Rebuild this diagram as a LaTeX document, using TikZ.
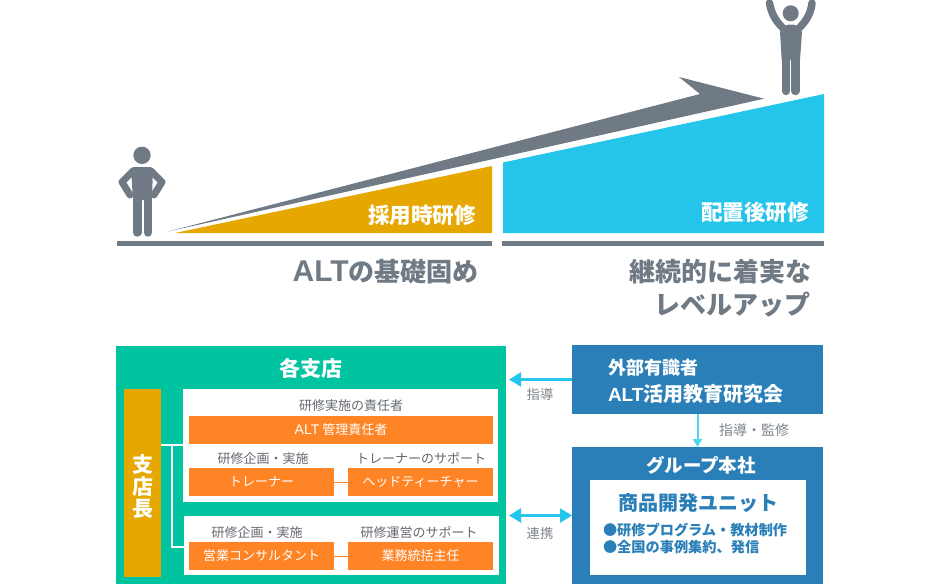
\documentclass[tikz,border=0pt]{standalone}
\usepackage{fontspec}
\setmainfont{Noto Sans CJK JP}
\newfontfamily\altfont{Liberation Sans}
\usetikzlibrary{arrows.meta}

\definecolor{slategray}{HTML}{6F7A85}
\definecolor{labelgray}{HTML}{7E858C}
\definecolor{goldbar}{HTML}{E6A800}
\definecolor{skyblue}{HTML}{25C4EA}
\definecolor{lightsky}{HTML}{4FD5EF}
\definecolor{branchgreen}{HTML}{00C4A0}
\definecolor{hqblue}{HTML}{2A7FB8}
\definecolor{roleorange}{HTML}{FF8426}

\newcommand{\fsz}[1]{\fontsize{#1}{#1}\selectfont}

\tikzset{
  panel/.style={rectangle, inner sep=0pt, outer sep=0pt},
  rolebox/.style={panel, fill=roleorange, text=white, font=\fsz{13}},
  roletitle/.style={labelgray!80!black, inner sep=0pt, font=\fsz{13}},
  linklabel/.style={labelgray, inner sep=0pt, font=\fsz{13.3}},
  bigtitle/.style={slategray, inner sep=0pt, font=\fsz{26}\bfseries},
  stagetitle/.style={white, inner sep=0pt, font=\fsz{21.6}\bfseries},
  linkarrow/.style={skyblue, line width=2.2pt},
  limb/.style={slategray, line cap=round, line join=round}
}

\begin{document}
\begin{tikzpicture}[x=1pt, y=-1pt]
 \useasboundingbox (0,0) rectangle (941,584);

 %%%  upper part

 % ground and wedges
 \fill [slategray] (117,241) rectangle (492,246);
 \fill [slategray] (502,241) rectangle (824,246);
 \fill [goldbar] (175,233) -- (492,166) -- (492,233) -- cycle;
 \fill [skyblue] (503,233) -- (503,162.5) -- (824,94) -- (824,233) -- cycle;
 \fill [slategray] (168,231.5) -- (700,94) -- (679,77) -- (764,98.7) -- cycle;

 % left person
 \fill [slategray] (142,155.3) circle (8.7);
 \draw [limb, line width=7pt] (133,171) -- (122,182) -- (130,195);
 \draw [limb, line width=7pt] (151,171) -- (162,182) -- (154,195);
 \fill [slategray, rounded corners=3pt] (131,167) -- (153,167) -- (152,200) -- (133,200) -- cycle;
 \draw [limb, line width=8.4pt] (137.3,199) -- (137.3,232.5);
 \draw [limb, line width=8.4pt] (147.7,199) -- (147.7,232.5);

 % right person
 \fill [slategray] (790.7,13.3) circle (8);
 \draw [limb, line width=7.5pt] (784,29) .. controls (776,22) and (771,13) .. (769.5,3);
 \draw [limb, line width=7.5pt] (798,29) .. controls (806,22) and (811,13) .. (812,3);
 \fill [slategray] (780,32) .. controls (783,26) and (786,24.5) .. (791,24.5) .. controls (796,24.5) and (799,26) .. (802,32) -- (800,60) -- (781.7,60) -- cycle;
 \draw [limb, line width=8.4pt] (786,59) -- (786,91);
 \draw [limb, line width=8.4pt] (795.5,59) -- (795.5,91);

 % wedge and step titles
 \node [stagetitle] (hire) at (422,215) {採用時研修};
 \node [stagetitle] (place) at (755,212.5) {配置後研修};
 \node [bigtitle, anchor=east] (base) at (479,272) {{\altfont\bfseries\fsz{30}ALT}の基礎固め};
 \node [bigtitle, anchor=east] (steady) at (812,272) {継続的に着実な};
 \node [bigtitle, anchor=east] (levelup) at (811,305) {レベルアップ};

 %%%  lower part

 % branch side
 \node [panel, fill=branchgreen, minimum width=390, minimum height=238] (branch) at (311,465) {};
 \node [panel, white, font=\fsz{21}\bfseries] (branchtitle) at (311,368) {各支店};
 \node [panel, fill=goldbar, minimum width=37, minimum height=188] (head) at (142.5,483) {};
 \node [panel, white, align=center, font=\fsz{21}\bfseries] (headtitle) at (142.5,487) {支\\[1pt]店\\[1pt]長};
 \node [panel, fill=white, minimum width=315, minimum height=113] (upper) at (340.5,445.5) {};
 \node [panel, fill=white, minimum width=315, minimum height=59] (lower) at (341.5,545.5) {};

 \node [rolebox, minimum width=304, minimum height=28] (manager) at (341,430) {{\altfont\fsz{14}ALT} 管理責任者};
 \node [rolebox, minimum width=145, minimum height=28] (trainer) at (261.5,482) {トレーナー};
 \node [rolebox, minimum width=145, minimum height=28] (teacher) at (420.5,482) {ヘッドティーチャー};
 \node [rolebox, minimum width=145, minimum height=28] (consult) at (261.5,556) {営業コンサルタント};
 \node [rolebox, minimum width=145, minimum height=28] (chief) at (420.5,556) {業務統括主任\hspace{9pt}};

 \node [roletitle] (t1) at (351,405.5) {研修実施の責任者};
 \node [roletitle] (t2) at (263,458.5) {研修企画・実施};
 \node [roletitle] (t3) at (421,458.5) {トレーナーのサポート};
 \node [roletitle] (t4) at (257,532.5) {研修企画・実施};
 \node [roletitle] (t5) at (419,532.5) {研修運営のサポート};

 \coordinate (jt) at (172,445);
 \coordinate (jb) at (172,547);
 \draw [white, line width=1.5pt] (head.east |- jt) -- (upper.west |- jt);
 \draw [white, line width=1.5pt] (jt) -- (jb) -- (lower.west |- jb);
 \draw [roleorange, line width=1pt] (trainer) -- (teacher);
 \draw [roleorange, line width=1pt] (consult) -- (chief);

 % group side
 \node [panel, fill=hqblue, minimum width=251, minimum height=69] (ext) at (697.5,379.5) {};
 \node [panel, white, align=left, font=\fsz{18}\bfseries, anchor=west] (exttitle) at (608,381) {外部有識者\\[7pt]{\fsz{20}{\altfont\bfseries\fsz{19}ALT}活用教育研究会}};
 \node [panel, fill=hqblue, minimum width=251, minimum height=137] (hq) at (697.5,515.5) {};
 \node [panel, white, font=\fsz{18.5}\bfseries] (hqtitle) at (701,465) {グループ本社};
 \node [panel, fill=white, minimum width=216, minimum height=95] (unit) at (698,527.5) {};
 \node [panel, text=hqblue, font=\fsz{20}\bfseries] (unittitle) at (698,503) {商品開発ユニット};
 \node [panel, text=hqblue, align=left, anchor=west, font=\fsz{14.2}\bfseries] (unittext) at (603,538.5) {●研修プログラム・教材制作\\[3pt]●全国の事例集約、発信};

 % links
 \path (branch.east |- ext.west) ++(3,0) coordinate (a1);
 \path (branch.east |- hq.west) ++(3,0) coordinate (a2);
 \draw [linkarrow, -{Triangle[length=12pt,width=14pt]}] (ext.west) -- (a1);
 \draw [linkarrow, {Triangle[length=12pt,width=14pt]}-{Triangle[length=12pt,width=14pt]}] (a2) -- (hq.west);
 \draw [lightsky, line width=2pt, -{Triangle[length=8pt,width=9pt]}] (ext.south) -- (hq.north);

 \node [linklabel] (l1) at (540,394) {指導};
 \node [linklabel, font=\fsz{14}] (l2) at (754,430) {指導・監修};
 \node [linklabel] (l3) at (540,533) {連携};

\end{tikzpicture}
\end{document}
